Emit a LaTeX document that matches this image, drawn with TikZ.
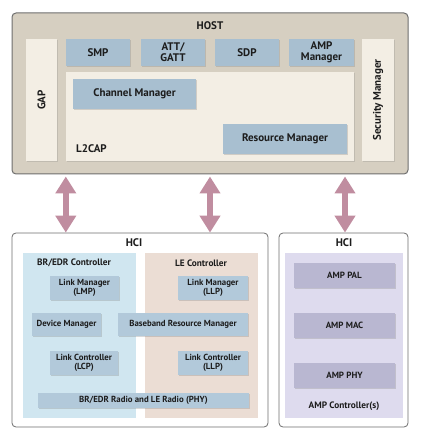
\documentclass[tikz,border=0pt]{standalone}
\usepackage{fontspec}
\setmainfont{PT Sans}
\usetikzlibrary{shadows,arrows.meta}
\definecolor{hostfill}{HTML}{D6CFC1}
\definecolor{cream}{HTML}{F3EEE4}
\definecolor{blk}{HTML}{A8BFD0}
\definecolor{blkle}{HTML}{B2C9DA}
\definecolor{brreg}{HTML}{D0E6F0}
\definecolor{lereg}{HTML}{EBDDD4}
\definecolor{ampreg}{HTML}{DEDBEE}
\definecolor{ampblk}{HTML}{B9B7D1}
\definecolor{arrowc}{HTML}{C08DA0}
\definecolor{frame}{HTML}{6E6E6E}
\definecolor{txt}{HTML}{1C1C1C}
\tikzset{
  every node/.style={text=txt, font=\bfseries},
  hostbox/.style={draw=frame, line width=1pt, rounded corners=4pt, fill=hostfill, inner sep=0pt},
  hcibox/.style={draw=frame, line width=0.8pt, rounded corners=4pt, fill=white, inner sep=0pt},
  creambox/.style={fill=cream, inner sep=0pt, drop shadow={shadow xshift=0.8pt, shadow yshift=-0.8pt, opacity=.25}},
  region/.style={inner sep=0pt},
  bluebox/.style={fill=blk, inner sep=0pt, align=center, font=\bfseries\fontsize{11}{11}\selectfont,
     drop shadow={shadow xshift=1pt, shadow yshift=-1pt, opacity=.3}},
  ctrlbox/.style={fill=blkle, inner sep=0pt, align=center, font=\bfseries\fontsize{8.8}{9}\selectfont,
     drop shadow={shadow xshift=1pt, shadow yshift=-1pt, opacity=.3}},
  ampbox/.style={fill=ampblk, inner sep=0pt, align=center, font=\bfseries\fontsize{9}{9}\selectfont,
     drop shadow={shadow xshift=1pt, shadow yshift=-1pt, opacity=.3}},
  lbl/.style={font=\bfseries\fontsize{9.3}{10}\selectfont, inner sep=0pt},
  title/.style={font=\bfseries\fontsize{11}{11}\selectfont, inner sep=0pt},
  sidelbl/.style={font=\bfseries\fontsize{11}{11}\selectfont, inner sep=0pt, rotate=90},
  biarrow/.style={draw=arrowc, line width=6.5pt,
     {Triangle[width=20pt,length=17pt]}-{Triangle[width=20pt,length=17pt]}, shorten <=2pt}
}
\begin{document}
\begin{tikzpicture}[x=1pt,y=-1pt]
\useasboundingbox (0,0) rectangle (420,443);
% HOST
\node[hostbox, minimum width=396pt, minimum height=161pt] (host) at (210,93.5) {};
\node[title] (hostlbl) at (210,26) {HOST};
\node[creambox, minimum width=31pt, minimum height=122pt] (gap) at (41.5,100) {};
\node[sidelbl] (gaplbl) at (gap.center) {GAP};
\node[creambox, minimum width=32pt, minimum height=122pt] (sec) at (378,100) {};
\node[sidelbl] (seclbl) at (sec.center) {Security Manager};
\node[bluebox, minimum width=64pt, minimum height=27pt] (smp) at (98,52.5) {SMP};
\node[bluebox, minimum width=64pt, minimum height=27pt] (att) at (173,52.5) {ATT/\\GATT};
\node[bluebox, minimum width=64pt, minimum height=27pt] (sdp) at (247,52.5) {SDP};
\node[bluebox, minimum width=65pt, minimum height=27pt] (ampm) at (321.5,52.5) {AMP\\Manager};
\node[creambox, minimum width=288pt, minimum height=89pt] (l2cap) at (210,116.5) {};
\node[bluebox, minimum width=123pt, minimum height=30pt] (chan) at (134.5,94) {Channel Manager};
\node[bluebox, minimum width=124pt, minimum height=30pt] (res) at (285,139) {Resource Manager};
\node[title, anchor=west] (l2lbl) at (76,149) {L2CAP};
% HCI left
\node[hcibox, minimum width=256pt, minimum height=194pt] (hci) at (140,330) {};
\node[title] (hcilbl) at (134,243) {HCI};
\node[region, fill=brreg, minimum width=113pt, minimum height=165pt] (br) at (79.5,335.5) {};
\node[region, fill=lereg, minimum width=113pt, minimum height=165pt] (le) at (201.5,335.5) {};
\node[lbl] (brlbl) at (74,263) {BR/EDR Controller};
\node[lbl] (lelbl) at (201,263) {LE Controller};
\node[ctrlbox, minimum width=69pt, minimum height=24pt] (lmp) at (84.5,288) {Link Manager\\(LMP)};
\node[ctrlbox, minimum width=70pt, minimum height=24pt] (llp) at (213,288) {Link Manager\\(LLP)};
\node[ctrlbox, minimum width=69pt, minimum height=23pt] (dev) at (66.5,324.5) {Device Manager};
\node[ctrlbox, minimum width=130pt, minimum height=23pt] (bb) at (183,324.5) {Baseband Resource Manager};
\node[ctrlbox, minimum width=68pt, minimum height=24pt] (lcp) at (84,363) {Link Controller\\(LCP)};
\node[ctrlbox, minimum width=70pt, minimum height=24pt] (lcl) at (213,363) {Link Controller\\(LLP)};
\node[ctrlbox, minimum width=211pt, minimum height=15pt] (phy) at (143.5,400.5) {BR/EDR Radio and LE Radio (PHY)};
% HCI right
\node[hcibox, minimum width=129pt, minimum height=194pt] (hcir) at (343.5,330) {};
\node[title] (hcirlbl) at (344,243) {HCI};
\node[region, fill=ampreg, minimum width=118pt, minimum height=165pt] (amp) at (344,335.5) {};
\node[ampbox, minimum width=101pt, minimum height=25pt] (pal) at (344.5,275.5) {AMP PAL};
\node[ampbox, minimum width=101pt, minimum height=25pt] (mac) at (344.5,325.5) {AMP MAC};
\node[ampbox, minimum width=101pt, minimum height=25pt] (aphy) at (344.5,375.5) {AMP PHY};
\node[lbl] (amplbl) at (344,406) {AMP Controller(s)};
% arrows
\draw[biarrow] (host.south -| l2cap.west) -- (hci.north -| l2cap.west);
\draw[biarrow] (host.south) -- (hci.north -| host.south);
\draw[biarrow] ([xshift=1.5pt]host.south -| hcir.north) -- ([xshift=1.5pt]hcir.north);
\end{tikzpicture}
\end{document}
